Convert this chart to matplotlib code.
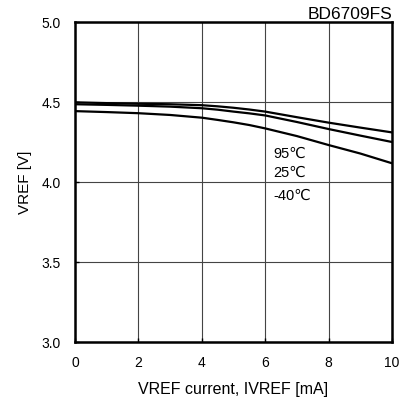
import matplotlib
matplotlib.use("Agg")
import matplotlib.pyplot as plt

plt.rcParams['font.family'] = ['Liberation Sans', 'DejaVu Sans']

current_ma = [0, 1, 2, 3, 4, 4.5, 5, 5.5, 6, 7, 8, 9, 10]
vref_95c = [4.498, 4.493, 4.489, 4.486, 4.480, 4.473, 4.464, 4.453, 4.440, 4.405, 4.371, 4.340, 4.31]
vref_25c = [4.486, 4.482, 4.477, 4.471, 4.461, 4.452, 4.440, 4.429, 4.416, 4.375, 4.331, 4.290, 4.25]
vref_m40c = [4.443, 4.437, 4.430, 4.419, 4.402, 4.388, 4.373, 4.356, 4.335, 4.287, 4.231, 4.178, 4.117]
temp_labels = ["95\u2103", "25\u2103", "-40\u2103"]
temp_label_y = [4.175, 4.058, 3.912]
x_ticks = [0, 2, 4, 6, 8, 10]
y_ticks = [3.0, 3.5, 4.0, 4.5, 5.0]

fig = plt.figure(figsize=(4.15, 4.03), dpi=100)
ax = fig.add_axes([75/415, 1-342/403, 317/415, 320/403])

for s in (vref_95c, vref_25c, vref_m40c):
    ax.plot(current_ma, s, color='black', lw=1.6, solid_joinstyle='round')

ax.set_xlim(0, 10)
ax.set_ylim(3.0, 5.0)
ax.set_xticks(x_ticks)
ax.set_yticks(y_ticks)
ax.set_xticklabels([str(t) for t in x_ticks])
ax.set_yticklabels([f"{t:.1f}" for t in y_ticks])
ax.grid(True, color='#444444', lw=0.8)
ax.tick_params(direction='in', length=3, width=1, labelsize=10, color='black')
ax.tick_params(axis='x', pad=10)
ax.tick_params(axis='y', pad=10)
for sp in ax.spines.values():
    sp.set_linewidth(1.8)

for lab, y in zip(temp_labels, temp_label_y):
    ax.text(6.26, y, lab, fontsize=10.5, ha='left', va='center')

ax.set_xlabel("VREF current, IVREF [mA]", fontsize=11.5, labelpad=9)
ax.set_ylabel("VREF [V]", fontsize=11, labelpad=7)
ax.set_title("BD6709FS", loc='right', fontsize=12.5, pad=2)

fig.savefig("out.png", dpi=100)
